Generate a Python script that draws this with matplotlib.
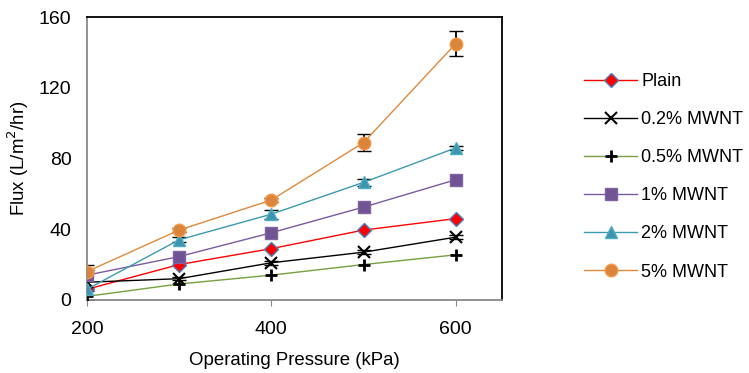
import matplotlib.pyplot as plt
import numpy as np

plt.rcParams['font.family'] = ['Liberation Sans', 'DejaVu Sans']

pressure = [200, 300, 400, 500, 600]

plain = [6, 20, 29, 39.5, 46]
mwnt_02 = [10, 12, 21, 27, 35.5]
mwnt_05 = [2, 9, 14, 20, 25.5]
mwnt_1 = [14, 24.5, 38, 52.5, 68]
mwnt_2 = [6, 34, 48.5, 66.5, 86]
mwnt_5 = [16, 39.5, 56.5, 89, 145]

err_02 = [10, 1, 1, 1, 1]
err_2 = [1, 1.5, 2.5, 2, 1]
err_5 = [1, 1, 1, 5, 7]

fig = plt.figure(figsize=(7.49, 3.73), dpi=100)
ax = fig.add_axes([0.116, 0.196, 0.554, 0.758])

ax.errorbar(pressure, mwnt_5, yerr=err_5, fmt='none', ecolor='black', capsize=5, lw=1.3, zorder=2)
ax.errorbar(pressure, mwnt_02, yerr=err_02, fmt='none', ecolor='black', capsize=5, lw=1.3, zorder=2)
ax.errorbar(pressure, mwnt_2, yerr=err_2, fmt='none', ecolor='black', capsize=5, lw=1.3, zorder=2)

ax.plot(pressure, plain, '-', color='red', lw=1, marker='D', ms=7,
        mfc='red', mec='#4a7ebb', mew=1, label='Plain', zorder=3)
ax.plot(pressure, mwnt_02, '-', color='black', lw=1, marker='x', ms=8,
        mec='black', mew=1.5, label='0.2% MWNT', zorder=3)
ax.plot(pressure, mwnt_05, '-', color='#77a040', lw=1, marker='+', ms=9,
        mec='black', mew=2, label='0.5% MWNT', zorder=3)
ax.plot(pressure, mwnt_1, '-', color='#7b5aa0', lw=1, marker='s', ms=8,
        mfc='#6f5394', mec='#8064a2', label='1% MWNT', zorder=3)
ax.plot(pressure, mwnt_2, '-', color='#3b9ab2', lw=1, marker='^', ms=9,
        mfc='#3d96ae', mec='#4bacc6', label='2% MWNT', zorder=3)
ax.plot(pressure, mwnt_5, '-', color='#e08a3c', lw=1, marker='o', ms=9,
        mfc='#d9853b', mec='#f79646', label='5% MWNT', zorder=3)

ax.set_xlim(200, 650)
ax.set_ylim(0, 160)
ax.set_xticks([200, 400, 600])
ax.set_yticks([0, 40, 80, 120, 160])
ax.tick_params(axis='x', direction='out', length=4, color='#888888', labelsize=14, pad=11)
ax.tick_params(axis='y', length=0, labelsize=14, pad=11)

ax.spines['left'].set_color('#888888')
ax.spines['bottom'].set_color('#888888')
ax.spines['top'].set_color('black')
ax.spines['right'].set_color('black')
for s in ax.spines.values():
    s.set_linewidth(1.3)

ax.set_xlabel('Operating Pressure (kPa)', fontsize=13.4, labelpad=10)
ax.set_ylabel('Flux (L/m$^2$/hr)', fontsize=13.4, labelpad=6)

ax.legend(loc='upper left', bbox_to_anchor=(1.16, 0.86), frameon=False,
          fontsize=13, handlelength=2.9, labelspacing=1.17, handletextpad=0.25)

plt.savefig('out.png', dpi=100)
